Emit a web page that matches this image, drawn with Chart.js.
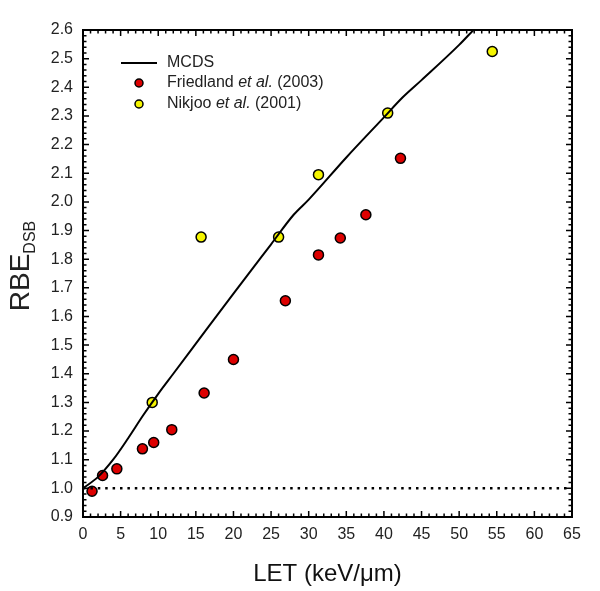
<!DOCTYPE html>
<html>
<head>
<meta charset="utf-8">
<script src="https://cdn.jsdelivr.net/npm/chart.js@4"></script>
<style>
  body { margin: 0; background: #fff; }
  canvas { display: block; }
</style>
</head>
<body>
<canvas id="rbeChart" width="600" height="591"></canvas>
<script>
// data
const xTicks = [0, 5, 10, 15, 20, 25, 30, 35, 40, 45, 50, 55, 60, 65];
const yTicks = [0.9, 1.0, 1.1, 1.2, 1.3, 1.4, 1.5, 1.6, 1.7, 1.8, 1.9, 2.0, 2.1, 2.2, 2.3, 2.4, 2.5, 2.6];

const mcdsLet = [0, 2, 4, 6, 8, 10, 12, 15, 20, 25, 28, 30, 35, 40, 42.5, 45, 50, 51.9];
const mcdsRbe = [1.0, 1.04, 1.1, 1.175, 1.255, 1.33, 1.4, 1.505, 1.68, 1.852, 1.955, 2.008, 2.155, 2.295, 2.365, 2.425, 2.548, 2.6];

const friedlandLet = [1.2, 2.6, 4.5, 7.9, 9.4, 11.8, 16.1, 20.0, 26.9, 31.3, 34.2, 37.6, 42.2];
const friedlandRbe = [0.99, 1.045, 1.068, 1.138, 1.16, 1.205, 1.333, 1.45, 1.655, 1.815, 1.874, 1.955, 2.152];

const nikjooLet = [9.2, 15.7, 26.0, 31.3, 40.5, 54.4];
const nikjooRbe = [1.3, 1.877, 1.877, 2.095, 2.31, 2.525];

const refLet = [0, 65];
const refRbe = [1.0, 1.0];

const pts = (xs, ys) => xs.map((x, i) => ({ x: x, y: ys[i] }));

// cadre, graduations vers l'intérieur, légende et titre de l'axe y
const decorPlugin = {
  id: 'decor',
  afterDraw(chart) {
    const ctx = chart.ctx;
    const a = chart.chartArea;
    const xs = chart.scales.x, ys = chart.scales.y;
    ctx.save();
    ctx.strokeStyle = '#000';
    ctx.lineWidth = 1.5;
    // minor + major ticks
    for (let v = 0; v <= 65; v++) {
      const px = xs.getPixelForValue(v);
      const len = v % 5 === 0 ? 6 : 3.5;
      ctx.beginPath();
      ctx.moveTo(px, a.bottom); ctx.lineTo(px, a.bottom - len);
      ctx.moveTo(px, a.top); ctx.lineTo(px, a.top + len);
      ctx.stroke();
    }
    for (let k = 0; k <= 85; k++) {
      const v = 0.9 + k * 0.02;
      const py = ys.getPixelForValue(v);
      const len = k % 5 === 0 ? 6 : 3.5;
      ctx.beginPath();
      ctx.moveTo(a.left, py); ctx.lineTo(a.left + len, py);
      ctx.moveTo(a.right, py); ctx.lineTo(a.right - len, py);
      ctx.stroke();
    }
    ctx.lineWidth = 2;
    ctx.strokeRect(a.left, a.top, a.right - a.left, a.bottom - a.top);

    // legend
    ctx.fillStyle = '#222';
    ctx.textBaseline = 'middle';
    const fam = 'Arial, "Liberation Sans", sans-serif';
    const drawMixed = (parts, x, y) => {
      parts.forEach(p => {
        ctx.font = (p[1] ? 'italic ' : '') + '16px ' + fam;
        ctx.fillText(p[0], x, y);
        x += ctx.measureText(p[0]).width;
      });
    };
    ctx.lineWidth = 2;
    ctx.beginPath();
    ctx.moveTo(121, 63); ctx.lineTo(157, 63);
    ctx.stroke();
    drawMixed([['MCDS', false]], 167, 63);
    [[83, '#dd0000', 'Friedland', '(2003)'], [104, '#f5f500', 'Nikjoo', '(2001)']].forEach(r => {
      ctx.beginPath();
      ctx.arc(139, r[0], 4, 0, Math.PI * 2);
      ctx.fillStyle = r[1];
      ctx.fill();
      ctx.lineWidth = 1.5;
      ctx.stroke();
      ctx.fillStyle = '#222';
      drawMixed([[r[2] + ' ', false], ['et al.', true], [' ' + r[3], false]], 167, r[0]);
    });

    // y title RBE with DSB subscript
    ctx.translate(29, 266);
    ctx.rotate(-Math.PI / 2);
    ctx.textBaseline = 'alphabetic';
    ctx.font = '28px ' + fam;
    const wMain = ctx.measureText('RBE').width;
    ctx.font = '16px ' + fam;
    const wSub = ctx.measureText('DSB').width;
    const x0 = -(wMain + wSub) / 2;
    ctx.font = '28px ' + fam;
    ctx.fillText('RBE', x0, 0);
    ctx.font = '16px ' + fam;
    ctx.fillText('DSB', x0 + wMain, 6);
    ctx.restore();
  }
};

new Chart(document.getElementById('rbeChart'), {
  type: 'scatter',
  data: {
    datasets: [
      {
        label: 'ref',
        data: pts(refLet, refRbe),
        showLine: true,
        borderColor: '#000',
        borderWidth: 2.5,
        borderDash: [2.5, 4.9],
        pointRadius: 0
      },
      {
        label: 'MCDS',
        data: pts(mcdsLet, mcdsRbe),
        showLine: true,
        borderColor: '#000',
        borderWidth: 2,
        pointRadius: 0,
        cubicInterpolationMode: 'monotone'
      },
      {
        label: 'Friedland et al. (2003)',
        data: pts(friedlandLet, friedlandRbe),
        backgroundColor: '#dd0000',
        borderColor: '#000',
        borderWidth: 1.5,
        pointRadius: 5
      },
      {
        label: 'Nikjoo et al. (2001)',
        data: pts(nikjooLet, nikjooRbe),
        backgroundColor: '#f5f500',
        borderColor: '#000',
        borderWidth: 1.5,
        pointRadius: 5
      }
    ]
  },
  options: {
    responsive: false,
    animation: false,
    layout: { padding: { left: 0, top: 30, right: 28, bottom: 0 } },
    plugins: {
      legend: { display: false },
      tooltip: { enabled: false }
    },
    scales: {
      x: {
        type: 'linear',
        min: 0, max: 65,
        grid: { display: false, drawTicks: false },
        border: { display: false },
        afterBuildTicks: s => { s.ticks = xTicks.map(v => ({ value: v })); },
        afterFit: s => { s.height = 74; },
        ticks: {
          padding: 8,
          maxRotation: 0,
          color: '#222',
          font: { family: 'Arial, "Liberation Sans", sans-serif', size: 16 }
        },
        title: {
          display: true,
          text: 'LET (keV/\u03bcm)',
          color: '#111',
          padding: { top: 14, bottom: 2 },
          font: { family: 'Arial, "Liberation Sans", sans-serif', size: 24 }
        }
      },
      y: {
        type: 'linear',
        min: 0.9, max: 2.6,
        grid: { display: false, drawTicks: false },
        border: { display: false },
        afterBuildTicks: s => { s.ticks = yTicks.map(v => ({ value: v })); },
        afterFit: s => { s.width = 83; },
        ticks: {
          padding: 10,
          color: '#222',
          font: { family: 'Arial, "Liberation Sans", sans-serif', size: 16 },
          callback: v => Number(v).toFixed(1)
        }
      }
    }
  },
  plugins: [decorPlugin]
});
</script>
</body>
</html>
